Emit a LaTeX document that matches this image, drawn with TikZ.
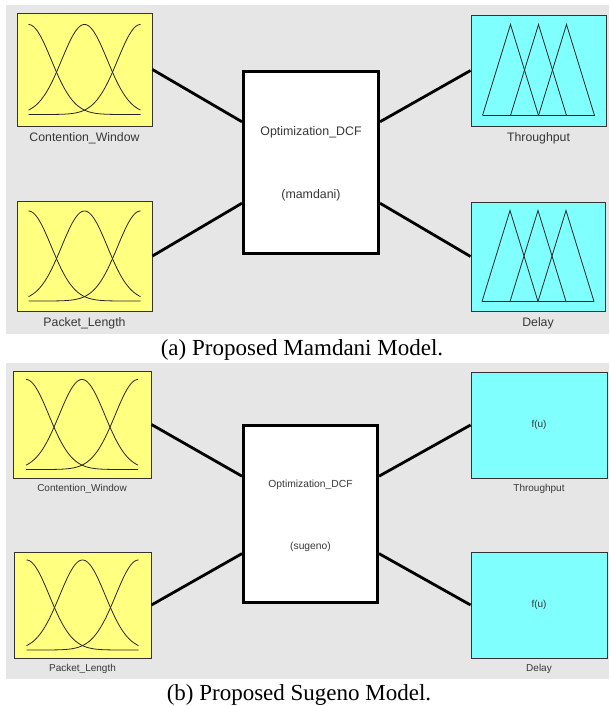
\documentclass[tikz,border=0pt]{standalone}
\usepackage{fontspec}
\setmainfont{Liberation Serif}
\newfontfamily\guifont{Liberation Sans}
\usetikzlibrary{calc,positioning}

\definecolor{panelgray}{RGB}{230,230,230}
\definecolor{mfyellow}{RGB}{255,255,128}
\definecolor{mfcyan}{RGB}{128,255,255}
\definecolor{guitext}{RGB}{55,55,55}

\tikzset{
  panel/.style={fill=panelgray, draw=none},
  inbox/.style={draw=black!80, line width=0.9pt, fill=mfyellow, inner sep=0pt},
  outbox/.style={draw=black!80, line width=0.9pt, fill=mfcyan, inner sep=0pt,
    font=\guifont\fontsize{10}{12}\selectfont, text=guitext},
  fisbox/.style={draw=black, line width=3pt, fill=white, inner sep=0pt},
  link/.style={line width=2.8pt, black},
  mfline/.style={line width=0.8pt, black!85},
  varname/.style={font=\guifont\fontsize{#1}{#1}\selectfont, text=guitext, inner sep=0pt},
  figcap/.style={font=\fontsize{23}{27}\selectfont, anchor=base, inner sep=0pt}
}

% three gaussian membership functions inside a box
\newcommand{\gaussmf}[1]{%
  \begin{scope}[shift={(#1.center)}]
    \foreach \ctr in {-56,0,56}
      \draw[mfline] plot[domain=-56:56, samples=80, smooth]
        (\x, {45-90*exp(-(\x-(\ctr))*(\x-(\ctr))/1040)});
  \end{scope}}

% three triangular membership functions inside a box
\newcommand{\trimf}[1]{%
  \begin{scope}[shift={(#1.center)}]
    \foreach \ctr in {-28,0,28}
      \draw[mfline] ({\ctr-28},45) -- (\ctr,-46) -- ({\ctr+28},45);
    \draw[mfline] (-56,45) -- (56,45);
  \end{scope}}

\begin{document}
\begin{tikzpicture}[x=1pt, y=-1pt]
  \useasboundingbox (0,0) rectangle (610,706);

  %%%%% MAMDANI %%%%%
  \fill[panel] (6,5) rectangle (609,334);

  \node[inbox, minimum width=135pt, minimum height=113pt] (mcw) at (84.5,69.5) {};
  \node[inbox, minimum width=135pt, minimum height=110pt] (mpl) at (84.5,256) {};
  \node[fisbox, minimum width=135pt, minimum height=182pt] (mfis) at (311,162.5) {};
  \node[outbox, minimum width=135pt, minimum height=111pt] (mtp) at (538.5,70.5) {};
  \node[outbox, minimum width=134pt, minimum height=109pt] (mdl) at (538,256.5) {};

  \gaussmf{mcw}
  \gaussmf{mpl}
  \trimf{mtp}
  \trimf{mdl}

  \node[varname=12.3, below=6pt of mcw] (mcwname) {Contention\_Window};
  \node[varname=12.3, below=6pt of mpl] (mplname) {Packet\_Length};
  \node[varname=12.3, below=6pt of mtp] (mtpname) {Throughput};
  \node[varname=12.3, below=6pt of mdl] (mdlname) {Delay};

  \node[varname=12.4] (mfisname) at ($(mfis.north)!0.335!(mfis.south)$) {Optimization\_DCF};
  \node[varname=12.4] (mfistype) at ($(mfis.north)!0.675!(mfis.south)$) {(mamdani)};

  \coordinate (mfisin1) at ($(mfis.north west)!0.28!(mfis.south west)$);
  \coordinate (mfisin2) at ($(mfis.north west)!0.72!(mfis.south west)$);
  \coordinate (mfisout1) at ($(mfis.north east)!0.28!(mfis.south east)$);
  \coordinate (mfisout2) at ($(mfis.north east)!0.72!(mfis.south east)$);
  \draw[link] (mcw.east) -- (mfisin1);
  \draw[link] (mpl.east) -- (mfisin2);
  \draw[link] (mfisout1) -- (mtp.west);
  \draw[link] (mfisout2) -- (mdl.west);

  \node[figcap] (capa) at (302,355) {(a) Proposed Mamdani Model.};

  %%%%% SUGENO %%%%%
  \fill[panel] (6,363) rectangle (609,679);

  \node[inbox, minimum width=138pt, minimum height=107pt] (scw) at (82,424.5) {};
  \node[inbox, minimum width=137pt, minimum height=106pt] (spl) at (82.5,605) {};
  \node[fisbox, minimum width=134pt, minimum height=177pt] (sfis) at (310.5,514) {};
  \node[outbox, minimum width=136pt, minimum height=106pt] (stp) at (539,425) {f(u)};
  \node[outbox, minimum width=136pt, minimum height=106pt] (sdl) at (539,605) {f(u)};

  \gaussmf{scw}
  \gaussmf{spl}

  \node[varname=10, below=6pt of scw] (scwname) {Contention\_Window};
  \node[varname=10, below=6pt of spl] (splname) {Packet\_Length};
  \node[varname=10, below=6pt of stp] (stpname) {Throughput};
  \node[varname=10, below=6pt of sdl] (sdlname) {Delay};

  \node[varname=10.3] (sfisname) at ($(sfis.north)!0.34!(sfis.south)$) {Optimization\_DCF};
  \node[varname=10.3] (sfistype) at ($(sfis.north)!0.68!(sfis.south)$) {(sugeno)};

  \coordinate (sfisin1) at ($(sfis.north west)!0.29!(sfis.south west)$);
  \coordinate (sfisin2) at ($(sfis.north west)!0.72!(sfis.south west)$);
  \coordinate (sfisout1) at ($(sfis.north east)!0.29!(sfis.south east)$);
  \coordinate (sfisout2) at ($(sfis.north east)!0.72!(sfis.south east)$);
  \draw[link] (scw.east) -- (sfisin1);
  \draw[link] (spl.east) -- (sfisin2);
  \draw[link] (sfisout1) -- (stp.west);
  \draw[link] (sfisout2) -- (sdl.west);

  \node[figcap] (capb) at (299,700) {(b) Proposed Sugeno Model.};
\end{tikzpicture}
\end{document}
